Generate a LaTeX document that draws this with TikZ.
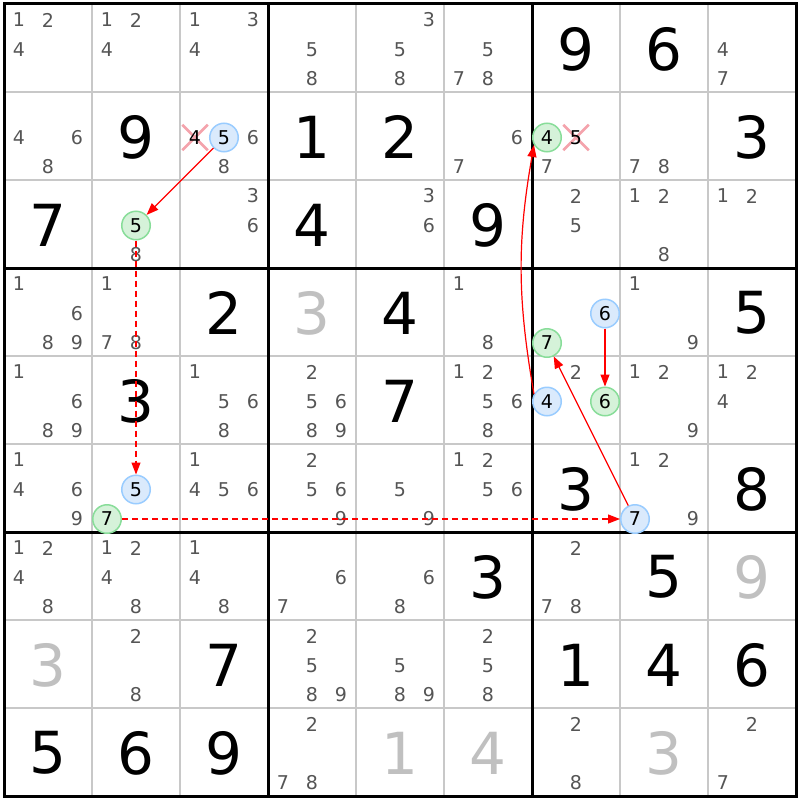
\documentclass[tikz,border=0pt]{standalone}
\usepackage{fontspec}
\setmainfont{DejaVu Sans}
\usetikzlibrary{arrows.meta, shapes.misc}
\definecolor{pencilgray}{HTML}{555555}
\definecolor{solvedgray}{HTML}{C0C0C0}
\definecolor{gridgray}{HTML}{C8C8C8}
\definecolor{onfill}{HTML}{DAEAFC}
\definecolor{ondraw}{HTML}{99CCFF}
\definecolor{offfill}{HTML}{D5F2D9}
\definecolor{offdraw}{HTML}{88DD99}
\definecolor{crosspink}{HTML}{F4A3AC}
\tikzset{
  x=1pt, y=-1pt, % one unit is one pixel, rows run downwards
  given/.style={font=\fontsize{58}{58}\selectfont, text=black, inner sep=0pt}, % big digits of the puzzle
  solved/.style={given, text=solvedgray}, % digits found earlier
  pencil/.style={font=\fontsize{19}{19}\selectfont, text=pencilgray, inner sep=0pt}, % candidates
  oncand/.style={circle, draw=ondraw, fill=onfill, line width=1.5pt, minimum size=28.5pt, inner sep=0pt, font=\fontsize{19}{19}\selectfont, text=black},
  offcand/.style={oncand, draw=offdraw, fill=offfill},
  struck/.style={cross out, draw=crosspink, line width=2.5pt, minimum size=23pt, inner sep=0pt}, % eliminated candidate
  stronglink/.style={-{Triangle[length=12pt,width=9pt]}, red, line width=1.2pt},
  weaklink/.style={stronglink, dash pattern=on 6pt off 4pt},
}
% row, column, digit
\newcommand{\givencell}[4][given]{\node[#1] (g#2#3) at ({88*#3-40},{88*#2-40+1}) {#4};}
% position of candidate: row, column, digit
\newcommand{\candpos}[3]{%
  \pgfmathsetmacro\candx{88*#2-40+29*(mod(#3-1,3)-1)}%
  \pgfmathsetmacro\candy{88*#1-40+29.5*(div(#3-1,3)-1)+1.5}}
% row, column, list of candidates
\newcommand{\pencilmarks}[3]{%
  \foreach \d in {#3}{%
    \candpos{#1}{#2}{\d}%
    \node[pencil] (p#1#2\d) at (\candx,\candy) {\d};}}
% style, row, column, digit, name
\newcommand{\linkcand}[5]{%
  \candpos{#2}{#3}{#4}%
  \node[#1] (#5) at (\candx,\candy) {#4};}
% row, column, digit: pink cross, black digit on top
\newcommand{\strikecand}[3]{%
  \candpos{#1}{#2}{#3}%
  \node[struck] (x#1#2#3) at (\candx,\candy) {};
  \node[pencil, text=black] (p#1#2#3) at (x#1#2#3) {#3};}

\begin{document}
\begin{tikzpicture}
  \fill[white] (0,0) rectangle (800,800);
  \useasboundingbox (0,0) rectangle (800,800);

  % grid
  \foreach \i in {1,2,4,5,7,8}{
    \draw[gridgray, line width=1.2pt] ({4+88*\i},4) -- ({4+88*\i},796);
    \draw[gridgray, line width=1.2pt] (4,{4+88*\i}) -- (796,{4+88*\i});
  }
  \foreach \i in {3,6}{
    \draw[line width=3pt] ({4+88*\i},4) -- ({4+88*\i},796);
    \draw[line width=3pt] (4,{4+88*\i}) -- (796,{4+88*\i});
  }
  \draw[line width=3pt] (4,4) rectangle (796,796);

  % digits of the puzzle
  \givencell{1}{7}{9} \givencell{1}{8}{6}
  \givencell{2}{2}{9} \givencell{2}{4}{1} \givencell{2}{5}{2} \givencell{2}{9}{3}
  \givencell{3}{1}{7} \givencell{3}{4}{4} \givencell{3}{6}{9}
  \givencell{4}{3}{2} \givencell[solved]{4}{4}{3} \givencell{4}{5}{4} \givencell{4}{9}{5}
  \givencell{5}{2}{3} \givencell{5}{5}{7}
  \givencell{6}{7}{3} \givencell{6}{9}{8}
  \givencell{7}{6}{3} \givencell{7}{8}{5} \givencell[solved]{7}{9}{9}
  \givencell[solved]{8}{1}{3} \givencell{8}{3}{7} \givencell{8}{7}{1} \givencell{8}{8}{4} \givencell{8}{9}{6}
  \givencell{9}{1}{5} \givencell{9}{2}{6} \givencell{9}{3}{9} \givencell[solved]{9}{5}{1} \givencell[solved]{9}{6}{4} \givencell[solved]{9}{8}{3}

  % candidates
  \pencilmarks{1}{1}{1,2,4} \pencilmarks{1}{2}{1,2,4} \pencilmarks{1}{3}{1,3,4}
  \pencilmarks{1}{4}{5,8} \pencilmarks{1}{5}{3,5,8} \pencilmarks{1}{6}{5,7,8} \pencilmarks{1}{9}{4,7}
  \pencilmarks{2}{1}{4,6,8} \pencilmarks{2}{3}{6,8} \pencilmarks{2}{6}{6,7} \pencilmarks{2}{7}{7} \pencilmarks{2}{8}{7,8}
  \pencilmarks{3}{2}{8} \pencilmarks{3}{3}{3,6} \pencilmarks{3}{5}{3,6} \pencilmarks{3}{7}{2,5} \pencilmarks{3}{8}{1,2,8} \pencilmarks{3}{9}{1,2}
  \pencilmarks{4}{1}{1,6,8,9} \pencilmarks{4}{2}{1,7,8} \pencilmarks{4}{6}{1,8} \pencilmarks{4}{8}{1,9}
  \pencilmarks{5}{1}{1,6,8,9} \pencilmarks{5}{3}{1,5,6,8} \pencilmarks{5}{4}{2,5,6,8,9} \pencilmarks{5}{6}{1,2,5,6,8}
  \pencilmarks{5}{7}{2} \pencilmarks{5}{8}{1,2,9} \pencilmarks{5}{9}{1,2,4}
  \pencilmarks{6}{1}{1,4,6,9} \pencilmarks{6}{3}{1,4,5,6} \pencilmarks{6}{4}{2,5,6,9} \pencilmarks{6}{5}{5,9}
  \pencilmarks{6}{6}{1,2,5,6} \pencilmarks{6}{8}{1,2,9}
  \pencilmarks{7}{1}{1,2,4,8} \pencilmarks{7}{2}{1,2,4,8} \pencilmarks{7}{3}{1,4,8} \pencilmarks{7}{4}{6,7}
  \pencilmarks{7}{5}{6,8} \pencilmarks{7}{7}{2,7,8}
  \pencilmarks{8}{2}{2,8} \pencilmarks{8}{4}{2,5,8,9} \pencilmarks{8}{5}{5,8,9} \pencilmarks{8}{6}{2,5,8}
  \pencilmarks{9}{4}{2,7,8} \pencilmarks{9}{7}{2,8} \pencilmarks{9}{9}{2,7}

  % eliminated candidates
  \strikecand{2}{3}{4}
  \strikecand{2}{7}{5}

  % chain
  \linkcand{oncand}{2}{3}{5}{r2c3n5}
  \linkcand{offcand}{3}{2}{5}{r3c2n5}
  \linkcand{oncand}{6}{2}{5}{r6c2n5}
  \linkcand{offcand}{6}{2}{7}{r6c2n7}
  \linkcand{oncand}{6}{8}{7}{r6c8n7}
  \linkcand{offcand}{4}{7}{7}{r4c7n7}
  \linkcand{oncand}{4}{7}{6}{r4c7n6}
  \linkcand{offcand}{5}{7}{6}{r5c7n6}
  \linkcand{oncand}{5}{7}{4}{r5c7n4}
  \linkcand{offcand}{2}{7}{4}{r2c7n4}

  \draw[stronglink] (r2c3n5) -- (r3c2n5);
  \draw[weaklink] (r3c2n5) -- (r6c2n5);
  \draw[weaklink] (r6c2n7) -- (r6c8n7);
  \draw[stronglink] (r6c8n7) -- (r4c7n7);
  \draw[stronglink] (r4c7n6) -- (r5c7n6);
  \draw[stronglink] (r5c7n4.150) to[bend left=10] (r2c7n4.210);
\end{tikzpicture}
\end{document}
